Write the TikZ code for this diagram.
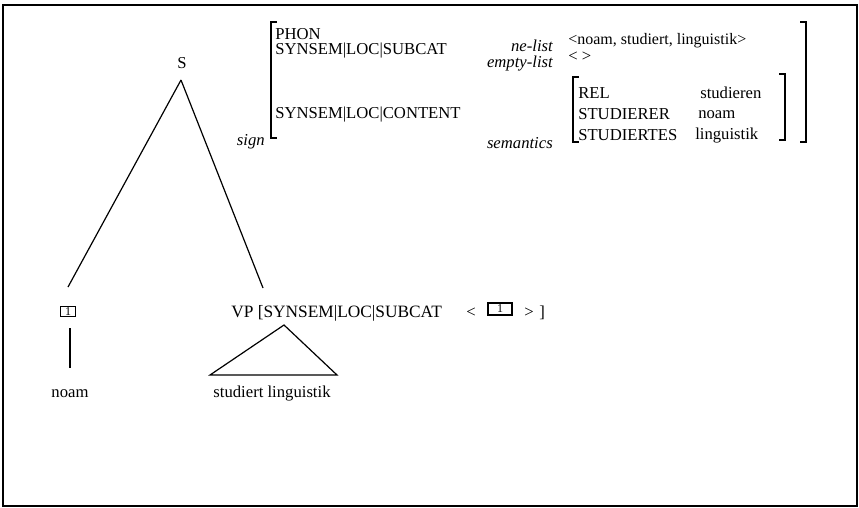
\documentclass[tikz,border=0pt]{standalone}
\usepackage{fontspec}
\setmainfont{Liberation Serif}
\begin{document}
\begin{tikzpicture}[x=0.75pt,y=-0.75pt,
  txt/.style={inner sep=0pt,font=\fontsize{12.5}{15}\selectfont},
  lb/.style={txt,anchor=base west},
  rb/.style={inner sep=0pt,anchor=base east,font=\fontsize{12.5}{15}\selectfont\itshape},
  brk/.style={line width=1pt},
  edge/.style={line width=0.9pt},
  tagbox/.style={draw,line width=0.8pt,inner sep=0pt,font=\fontsize{9}{9}\selectfont}]
\useasboundingbox (0,0) rectangle (859,507);
\draw[line width=0.9pt] (3,5) rectangle (857,506);

% ---------- tree ----------
\node[txt,anchor=base] (S) at (182,68) {S};
\coordinate (sfoot) at (181,80);
\node[tagbox,minimum width=11.25pt,minimum height=7.5pt] (b1) at (68,311.5) {1};
\coordinate (leftend) at (68,287);
\coordinate (rightend) at (263,288);
\draw[edge] (sfoot) -- (leftend);
\draw[edge] (sfoot) -- (rightend);

\coordinate (v1) at (70,328);
\coordinate (v2) at (70,368);
\draw[edge] (v1) -- (v2);
\node[txt,anchor=base] (noam) at (70,397) {noam};

\node[lb,font=\fontsize{13}{15}\selectfont] (vp) at (231,317) {VP [SYNSEM|LOC|SUBCAT};
\node[lb] (lt) at (466,317) {<};
\node[tagbox,minimum width=18pt,minimum height=9pt] (b2) at (500,309) {1\hspace{9pt}};
\node[lb] (gt) at (524,317) {>};
\node[lb] (rbk) at (539,317) {]};

\coordinate (tapex) at (284,325);
\coordinate (tl) at (210,375);
\coordinate (tr) at (337,375);
\draw[edge] (tapex) -- (tl) -- (tr) -- cycle;
\node[txt,anchor=base] (sl) at (272,397) {studiert linguistik};

% ---------- AVM ----------
\draw[brk] (277,22) -- (271,22) -- (271,138) -- (277,138);
\draw[brk] (800,22) -- (806,22) -- (806,142) -- (800,142);
\draw[brk] (579,77) -- (573,77) -- (573,142) -- (579,142);
\draw[brk] (779,74) -- (785,74) -- (785,140) -- (779,140);

\node[lb] (phon) at (275,39) {PHON};
\node[lb] (subcat) at (275,54) {SYNSEM|LOC|SUBCAT};
\node[lb] (content) at (275,118) {SYNSEM|LOC|CONTENT};
\node[rb] (sign) at (265,145) {sign};
\node[rb] (nelist) at (553,51) {ne-list};
\node[rb] (emptylist) at (553,67) {empty-list};
\node[rb] (sem) at (553,148) {semantics};
\node[lb,font=\fontsize{12}{15}\selectfont] (phonval) at (568,44) {<noam, studiert, linguistik>};
\node[lb] (subval) at (568,61) {< >};
\node[lb] (rel) at (578,98) {REL};
\node[lb] (relv) at (700,98) {studieren};
\node[lb] (sr) at (578,119) {STUDIERER};
\node[lb] (srv) at (698,118) {noam};
\node[lb] (st) at (578,140) {STUDIERTES};
\node[lb] (stv) at (695,139) {linguistik};
\end{tikzpicture}
\end{document}
